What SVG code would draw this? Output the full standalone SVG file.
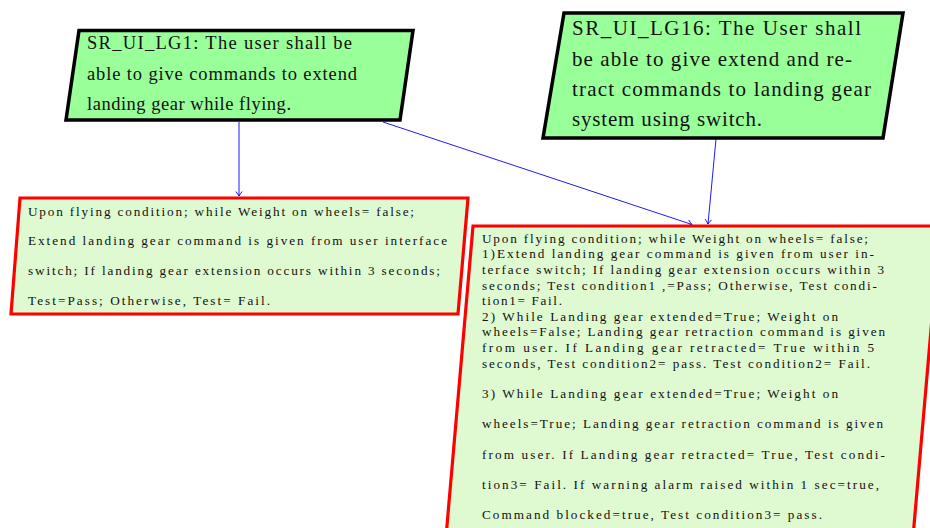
<svg xmlns="http://www.w3.org/2000/svg" width="930" height="528" viewBox="0 0 930 528">
<style>
.req{fill:#99FF99;stroke:#000;stroke-width:3.5;stroke-linejoin:miter}
.test{fill:#DFFAD0;stroke:#FF0000;stroke-width:3.2;stroke-linejoin:miter}
.t{font-family:"Liberation Serif","Times New Roman",serif;fill:#111}
.big{font-size:18.5px}
.big2{font-size:21px}
.sm{font-size:13.2px}
.conn{stroke:#0000FF;stroke-width:0.9;fill:none}
</style>
<defs>
<marker id="ah" markerUnits="userSpaceOnUse" markerWidth="12" markerHeight="12" refX="0" refY="0" viewBox="-6 -6 12 12" orient="auto">
<path d="M-4.5,-3.2 Q-1.5,-0.8 0,0 Q-1.5,0.8 -4.5,3.2" fill="none" stroke="#0000FF" stroke-width="0.9"/>
</marker>
</defs>
<rect width="930" height="528" fill="#fff"/>
<g id="connectors">
<line class="conn" x1="239" y1="122" x2="239" y2="196" marker-end="url(#ah)"/>
<line class="conn" x1="383" y1="122" x2="692" y2="224.5" marker-end="url(#ah)"/>
<line class="conn" x1="716" y1="139" x2="708" y2="224" marker-end="url(#ah)"/>
</g>
<g id="SR_UI_LG1">
<polygon class="req" points="79,30.5 413,30.5 400,120 66,120"/>
<text class="t big" x="87" y="49" textLength="265" lengthAdjust="spacing">SR_UI_LG1: The user shall be</text>
<text class="t big" x="87" y="80" textLength="270" lengthAdjust="spacing">able to give commands to extend</text>
<text class="t big" x="87" y="110" textLength="204" lengthAdjust="spacing">landing gear while flying.</text>
</g>
<g id="SR_UI_LG16">
<polygon class="req" points="564,13 903,13 883,138 543,138"/>
<text class="t big2" x="572" y="35" textLength="289" lengthAdjust="spacing">SR_UI_LG16: The User shall</text>
<text class="t big2" x="572" y="65.5" textLength="280" lengthAdjust="spacing">be able to give extend and re-</text>
<text class="t big2" x="572" y="96" textLength="299" lengthAdjust="spacing">tract commands to landing gear</text>
<text class="t big2" x="572" y="126" textLength="190" lengthAdjust="spacing">system using switch.</text>
</g>
<g id="test1">
<polygon class="test" points="20,198 468,198 458,314 11,314"/>
<text class="t sm" x="28" y="215.5" textLength="386" lengthAdjust="spacing">Upon flying condition; while Weight on wheels= false;</text>
<text class="t sm" x="28" y="245" textLength="419" lengthAdjust="spacing">Extend landing gear command is given from user interface</text>
<text class="t sm" x="28" y="274.5" textLength="412" lengthAdjust="spacing">switch; If landing gear extension occurs within 3 seconds;</text>
<text class="t sm" x="28" y="304.5" textLength="242" lengthAdjust="spacing">Test=Pass; Otherwise, Test= Fail.</text>
</g>
<g id="test16">
<polygon class="test" points="473,226 940,226 911,560 444,560"/>
<text class="t sm" x="482" y="242.7" textLength="386" lengthAdjust="spacing">Upon flying condition; while Weight on wheels= false;</text>
<text class="t sm" x="482" y="258.3" textLength="392" lengthAdjust="spacing">1)Extend landing gear command is given from user in-</text>
<text class="t sm" x="482" y="273.9" textLength="402" lengthAdjust="spacing">terface switch; If landing gear extension occurs within 3</text>
<text class="t sm" x="482" y="289.5" textLength="395" lengthAdjust="spacing">seconds; Test condition1 ,=Pass; Otherwise, Test condi-</text>
<text class="t sm" x="482" y="305.1" textLength="80" lengthAdjust="spacing">tion1= Fail.</text>
<text class="t sm" x="482" y="320.7" textLength="356" lengthAdjust="spacing">2) While Landing gear extended=True; Weight on</text>
<text class="t sm" x="482" y="336.3" textLength="403" lengthAdjust="spacing">wheels=False; Landing gear retraction command is given</text>
<text class="t sm" x="482" y="351.9" textLength="392" lengthAdjust="spacing">from user. If Landing gear retracted= True within 5</text>
<text class="t sm" x="482" y="367.5" textLength="388" lengthAdjust="spacing">seconds, Test condition2= pass. Test condition2= Fail.</text>
<text class="t sm" x="482" y="397.7" textLength="356" lengthAdjust="spacing">3) While Landing gear extended=True; Weight on</text>
<text class="t sm" x="482" y="428.3" textLength="401" lengthAdjust="spacing">wheels=True; Landing gear retraction command is given</text>
<text class="t sm" x="482" y="458.6" textLength="403" lengthAdjust="spacing">from user. If Landing gear retracted= True, Test condi-</text>
<text class="t sm" x="482" y="489" textLength="397" lengthAdjust="spacing">tion3= Fail. If warning alarm raised within 1 sec=true,</text>
<text class="t sm" x="482" y="519.3" textLength="340" lengthAdjust="spacing">Command blocked=true, Test condition3= pass.</text>
</g>
</svg>
